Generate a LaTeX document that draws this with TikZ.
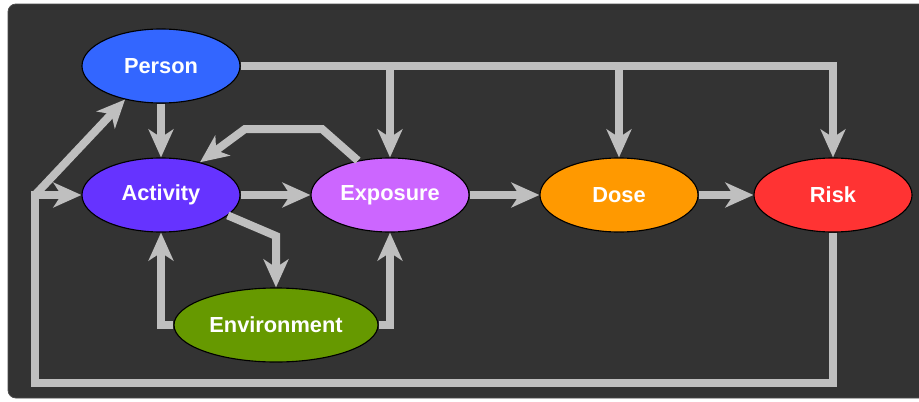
\documentclass[tikz,border=0pt]{standalone}
\usepackage{fontspec}
\setmainfont{Liberation Sans}
\usetikzlibrary{arrows.meta,shapes.geometric}

\definecolor{bggray}{HTML}{333333}
\definecolor{flowgray}{HTML}{BFBFBF}
\definecolor{personblue}{HTML}{3366FF}
\definecolor{activityblue}{HTML}{6633FF}
\definecolor{exposurepink}{HTML}{CC66FF}
\definecolor{doseorange}{HTML}{FF9900}
\definecolor{riskred}{HTML}{FF3333}
\definecolor{envgreen}{HTML}{669900}

\tikzset{
    state/.style={ellipse, draw=black, line width=0.8pt, inner sep=0pt,
        minimum width=3.95cm, minimum height=1.85cm, text=white,
        font=\fontsize{15.5}{18}\selectfont\bfseries},
    flow/.style={draw=flowgray, line width=0.2cm,
        -{Stealth[length=0.7cm,width=0.62cm,inset=0.2cm]}},
    line/.style={draw=flowgray, line width=0.2cm}
}

\begin{document}
\begin{tikzpicture}[x=0.025cm, y=-0.025cm]
            \clip (0,0) rectangle (919,401);
            \fill[white] (0,0) rectangle (919,401);
            % background
            \draw[fill=bggray, draw=black!70, line width=0.6pt, rounded corners=0.2cm]
                (8,4) rectangle (940,398);

            % states
            \foreach \name/\x/\y/\col/\txt in
            {person/161/66/personblue/Person,
             activity/161/195/activityblue/Activity,
             exposure/390/195/exposurepink/Exposure,
             dose/619/195/doseorange/Dose,
             risk/833/195/riskred/Risk}{
                \node[state, fill=\col] (\name) at (\x,\y) {\txt};
            }
            \node[state, fill=envgreen, minimum width=5.1cm] (environment) at (276,325) {Environment};

            % person to the chain
            \draw[flow] (person.east) -| (risk.north);
            \foreach \target in {exposure, dose}{
                \draw[flow] (\target.north |- person.east) -- (\target.north);
            }
            \draw[flow] (person.south) -- (activity.north);

            % main chain
            \draw[flow] (activity.east) -- (exposure.west);
            \draw[flow] (exposure.east) -- (dose.west);
            \draw[flow] (dose.east) -- (risk.west);

            % exposure back to activity
            \coordinate (back1) at (322,129);
            \coordinate (back2) at (245,129);
            \draw[flow] (exposure.133) -- (back1) -- (back2) -- (activity.40);

            % environment
            \coordinate (envin) at (276,236);
            \draw[flow] (activity.-17) -- (envin) -- (environment.north);
            \draw[flow] (environment.west) -| (activity.south);
            \draw[flow] (environment.east) -| (exposure.south);

            % risk loops back
            \coordinate (loopbot) at (35,383);
            \coordinate (loop) at (35,195);
            \draw[flow] (risk.south) |- (loopbot) -- (loop) -- (activity.west);
            \draw[flow] (loop) -- (person.-137);
        \end{tikzpicture}
\end{document}
